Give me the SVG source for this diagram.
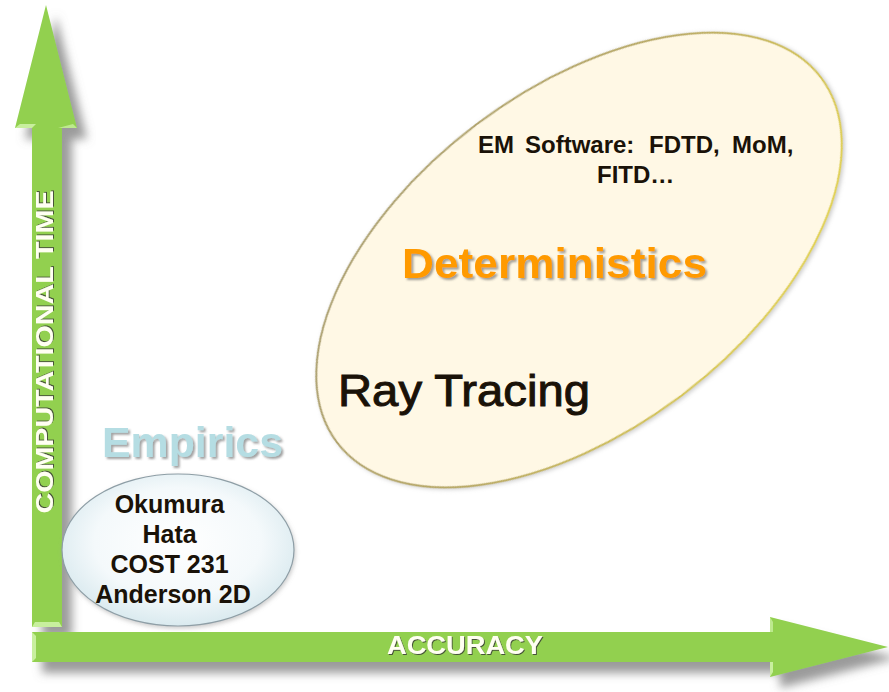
<svg xmlns="http://www.w3.org/2000/svg" width="889" height="692" viewBox="0 0 889 692">
<defs>
  <filter id="arrowShadow" x="-20%" y="-20%" width="150%" height="150%">
    <feGaussianBlur in="SourceAlpha" stdDeviation="5"/>
    <feOffset dx="10" dy="11" result="b"/>
    <feFlood flood-color="#7a7a7a" flood-opacity="0.75"/>
    <feComposite in2="b" operator="in" result="s"/>
    <feMerge><feMergeNode in="s"/><feMergeNode in="SourceGraphic"/></feMerge>
  </filter>
  <filter id="textShadow" x="-10%" y="-20%" width="130%" height="150%">
    <feGaussianBlur in="SourceAlpha" stdDeviation="1.2"/>
    <feOffset dx="2" dy="2" result="b"/>
    <feFlood flood-color="#555" flood-opacity="0.55"/>
    <feComposite in2="b" operator="in" result="s"/>
    <feMerge><feMergeNode in="s"/><feMergeNode in="SourceGraphic"/></feMerge>
  </filter>
  <filter id="axisText" x="-10%" y="-20%" width="130%" height="150%">
    <feGaussianBlur in="SourceAlpha" stdDeviation="0.6"/>
    <feOffset dx="1" dy="1" result="b"/>
    <feFlood flood-color="#333" flood-opacity="0.8"/>
    <feComposite in2="b" operator="in" result="s"/>
    <feMerge><feMergeNode in="s"/><feMergeNode in="SourceGraphic"/></feMerge>
  </filter>
  <filter id="softShadow" x="-20%" y="-20%" width="140%" height="140%">
    <feGaussianBlur in="SourceAlpha" stdDeviation="2"/>
    <feOffset dx="1" dy="2" result="b"/>
    <feFlood flood-color="#999" flood-opacity="0.5"/>
    <feComposite in2="b" operator="in" result="s"/>
    <feMerge><feMergeNode in="s"/><feMergeNode in="SourceGraphic"/></feMerge>
  </filter>
  <radialGradient id="blueFill" cx="50%" cy="45%" r="60%">
    <stop offset="0" stop-color="#ffffff"/>
    <stop offset="0.6" stop-color="#f4f9fb"/>
    <stop offset="1" stop-color="#d3e6ec"/>
  </radialGradient>
  <linearGradient id="yellowEdge" x1="0" y1="0" x2="1" y2="1">
    <stop offset="0" stop-color="#a89e78"/>
    <stop offset="0.5" stop-color="#b8a860"/>
    <stop offset="1" stop-color="#f2e24a"/>
  </linearGradient>
  <style>
    .arrow { fill: #92d050; }
    .bevel { fill: #c8ef9e; }
    .axisLabel { font-family: "Liberation Sans", Arial, sans-serif; font-weight: bold; fill: #fffff2; }
    .nodeText { font-family: "Liberation Sans", Arial, sans-serif; font-weight: bold; fill: #1a1208; }
    .title { font-family: "Liberation Sans", Arial, sans-serif; font-weight: bold; }
  </style>
</defs>
<rect width="889" height="692" fill="#ffffff"/>

<g id="axes">
  <g id="axis-y" filter="url(#arrowShadow)">
    <polygon class="arrow" points="46,5 77,128 62,128 62,627 32,627 32,128 15,128"/>
  </g>
  <g id="axis-x" filter="url(#arrowShadow)">
    <polygon class="arrow" points="32,632 770,632 770,617 888,647 770,677 770,662 32,662"/>
  </g>
  <g id="bevels">
    <polygon class="bevel" points="15,128 20,124 36,124 32,128"/>
    <polygon class="bevel" points="58,128 73,124 77,128 62,128" opacity="0.8"/>
    <polygon class="bevel" points="32,627 35,622 59,622 62,627"/>
    <polygon class="bevel" points="32,632 36,636 36,658 32,662"/>
    <polygon class="bevel" points="770,617 773,622 773,632 770,632" opacity="0.8"/>
    <polygon class="bevel" points="770,662 773,662 773,672 770,677"/>
  </g>
  <text class="axisLabel" filter="url(#axisText)" font-size="24" text-anchor="middle" textLength="323" lengthAdjust="spacingAndGlyphs" transform="translate(53,352) rotate(-90)">COMPUTATIONAL TIME</text>
  <text class="axisLabel" filter="url(#axisText)" font-size="26" x="465" y="654" text-anchor="middle" textLength="156" lengthAdjust="spacingAndGlyphs">ACCURACY</text>
</g>

<g id="node-deterministics">
  <ellipse cx="579" cy="260" rx="303" ry="170" transform="rotate(-37 579 260)" fill="#fff8e5" stroke="url(#yellowEdge)" stroke-width="2" filter="url(#softShadow)"/>
  <text class="nodeText" font-size="24" y="153">
    <tspan x="478">EM</tspan><tspan x="525">Software:</tspan><tspan x="649">FDTD,</tspan><tspan x="732">MoM,</tspan>
  </text>
  <text class="nodeText" font-size="24" x="597" y="183">FITD…</text>
  <text class="title" font-size="43" x="402" y="278" fill="#ff9a00" filter="url(#textShadow)" textLength="305" lengthAdjust="spacingAndGlyphs">Deterministics</text>
  <text font-family="'Liberation Sans', Arial, sans-serif" font-size="44" x="338" y="406" fill="#1a1208" stroke="#1a1208" stroke-width="1" textLength="252" lengthAdjust="spacingAndGlyphs">Ray Tracing</text>
</g>

<g id="node-empirics">
  <text class="title" font-size="43" x="102" y="457" fill="#b5dde3" filter="url(#textShadow)" textLength="181" lengthAdjust="spacingAndGlyphs">Empirics</text>
  <ellipse cx="178" cy="550" rx="116" ry="76" fill="url(#blueFill)" stroke="#8e9ea6" stroke-width="1.2" filter="url(#softShadow)"/>
  <text class="nodeText" font-size="25" text-anchor="middle">
    <tspan x="173" y="513">Okumura</tspan>
    <tspan x="173" y="543">Hata</tspan>
    <tspan x="173" y="573">COST 231</tspan>
    <tspan x="173" y="603">Anderson 2D</tspan>
  </text>
</g>
</svg>
